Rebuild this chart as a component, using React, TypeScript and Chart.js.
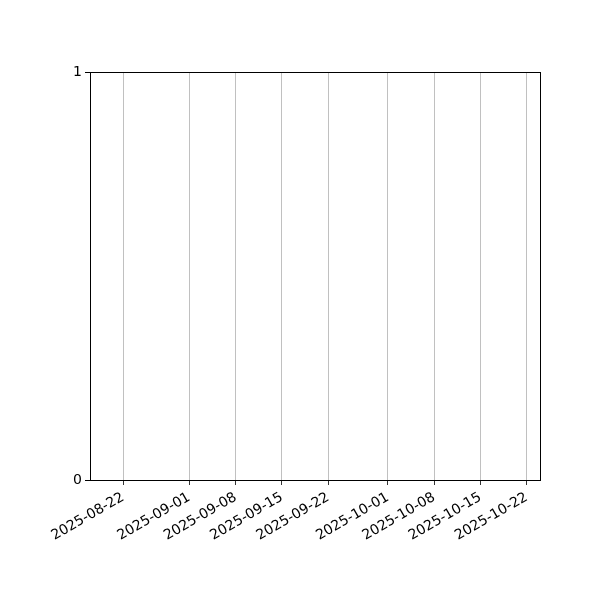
import React, { useEffect, useRef } from "react";
import { Chart, registerables } from "chart.js";

Chart.register(...registerables);

// x axis window and date ticks
const rangeStart = "2025-08-17";
const rangeEnd = "2025-10-24";
const tickDates = [
  "2025-08-22",
  "2025-09-01",
  "2025-09-08",
  "2025-09-15",
  "2025-09-22",
  "2025-10-01",
  "2025-10-08",
  "2025-10-15",
  "2025-10-22",
];
const yTicks = [0, 1];

const DAY = 86400000;
const base = Date.parse(rangeStart);
const toDay = (s: string) => (Date.parse(s) - base) / DAY;
const fromDay = (v: number) =>
  new Date(base + Math.round(v) * DAY).toISOString().slice(0, 10);

// matplotlib-like box around the plot area
const frame = {
  id: "frame",
  afterDraw(chart: any) {
    const { ctx, chartArea } = chart;
    ctx.save();
    ctx.strokeStyle = "#000";
    ctx.lineWidth = 1;
    ctx.strokeRect(
      Math.round(chartArea.left) + 0.5,
      Math.round(chartArea.top) + 0.5,
      Math.round(chartArea.right - chartArea.left),
      Math.round(chartArea.bottom - chartArea.top),
    );
    ctx.restore();
  },
};

const App = () => {
  const canvasRef = useRef<HTMLCanvasElement>(null);

  useEffect(() => {
    document.body.style.margin = "0";
    if (!canvasRef.current) return;
    const ctx = canvasRef.current.getContext("2d");
    if (!ctx) return;

    const font = { family: "DejaVu Sans", size: 14 };

    const chart = new Chart(ctx, {
      type: "line",
      data: { datasets: [] },
      options: {
        animation: false,
        responsive: false,
        layout: { padding: { top: 72, right: 60, left: 0, bottom: 0 } },
        plugins: {
          legend: { display: false },
          tooltip: { enabled: false },
        },
        scales: {
          x: {
            type: "linear",
            min: 0,
            max: toDay(rangeEnd),
            afterBuildTicks: (scale: any) => {
              scale.ticks = tickDates.map((d) => ({ value: toDay(d) }));
            },
            afterFit: (scale: any) => {
              scale.height = 120;
            },
            ticks: {
              color: "#000",
              font,
              minRotation: 30,
              maxRotation: 30,
              autoSkip: false,
              padding: 4,
              callback: (v: any) => fromDay(Number(v)),
            },
            grid: {
              color: "#b0b0b0",
              lineWidth: 0.8,
              tickColor: "#000",
              tickLength: 5,
            },
            border: { display: false },
          },
          y: {
            type: "linear",
            min: 0,
            max: 1,
            afterBuildTicks: (scale: any) => {
              scale.ticks = yTicks.map((v) => ({ value: v }));
            },
            afterFit: (scale: any) => {
              scale.width = 90;
            },
            ticks: { color: "#000", font, padding: 3 },
            grid: {
              drawOnChartArea: false,
              tickColor: "#000",
              tickLength: 5,
            },
            border: { display: false },
          },
        },
      },
      plugins: [frame],
    });

    return () => {
      chart.destroy();
    };
  }, []);

  return (
    <div style={{ width: 600, height: 600, background: "#fff" }}>
      <canvas ref={canvasRef} width={600} height={600}></canvas>
    </div>
  );
};

export default App;
